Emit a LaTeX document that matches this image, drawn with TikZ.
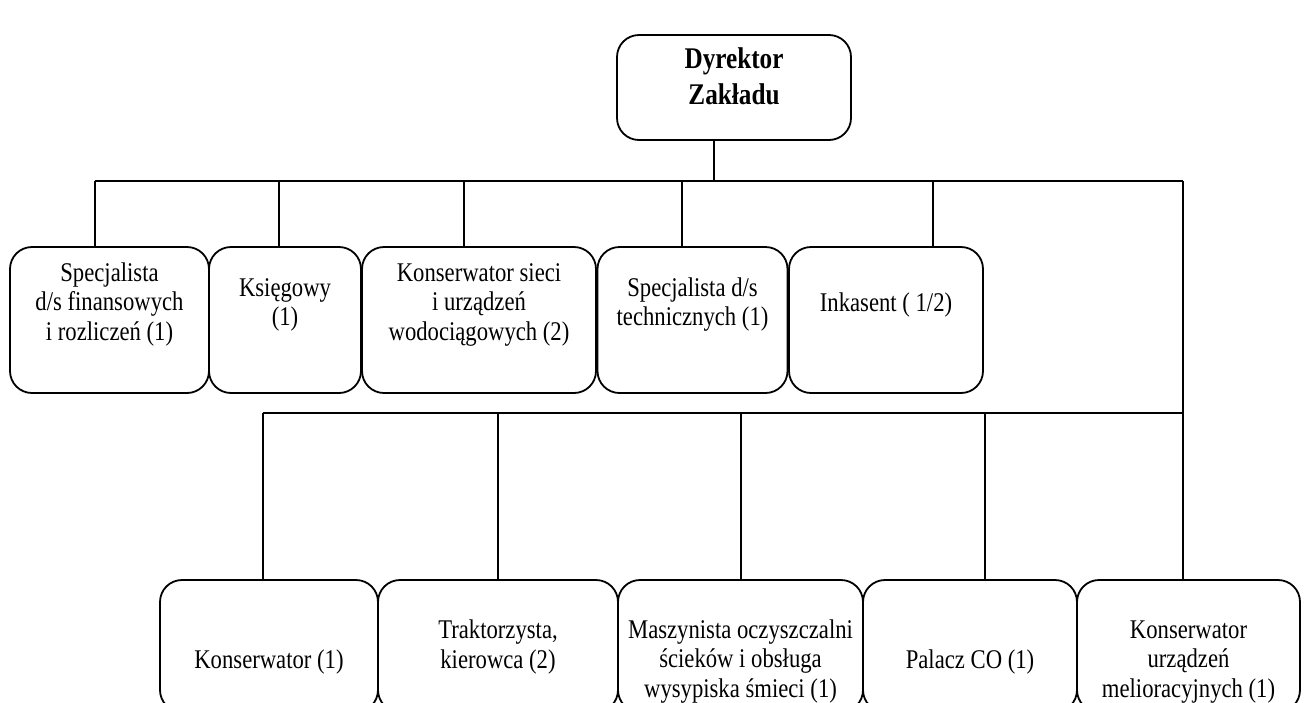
\documentclass[tikz,border=0pt]{standalone}
\usepackage{fontspec}
\setmainfont{Liberation Serif}[FakeStretch=0.84]
\begin{document}
\begin{tikzpicture}[x=1pt,y=1pt,
  box/.style={draw, line width=1.8pt, rounded corners=22pt, inner sep=0pt},
  txt/.style={font=\fontsize{27}{29.5}\selectfont, align=center, inner sep=0pt, anchor=base},
  head/.style={font=\fontsize{30}{36}\selectfont\bfseries, align=center, inner sep=0pt, anchor=base},
  conn/.style={line width=1.3pt}]
\useasboundingbox (0,0) rectangle (1308,-702);
\clip (0,0) rectangle (1308,-702);
\fill[white] (0,0) rectangle (1308,-702);

% director
\node[box, minimum width=234, minimum height=105] (dir) at (734,-87.5) {};
\node[head] (dirt) at (734,-104) {Dyrektor\\Zakładu};

% top row
\node[box, minimum width=199, minimum height=146] (a1) at (109.5,-320) {};
\node[box, minimum width=152, minimum height=146] (a2) at (285,-320) {};
\node[box, minimum width=234, minimum height=146] (a3) at (479,-320) {};
\node[box, minimum width=190, minimum height=146] (a4) at (692.5,-320) {};
\node[box, minimum width=194, minimum height=146] (a5) at (886,-320) {};

\node[txt] (a1t) at (109.5,-340) {Specjalista\\d/s finansowych\\i rozliczeń (1)};
\node[txt] (a2t) at (285,-325.5) {Księgowy\\(1)};
\node[txt] (a3t) at (479,-340) {Konserwator sieci\\i urządzeń\\wodociągowych (2)};
\node[txt] (a4t) at (692.5,-325.5) {Specjalista d/s\\technicznych (1)};
\node[txt] (a5t) at (886,-311) {Inkasent ( 1/2)};

% bottom row
\node[box, minimum width=218, minimum height=132] (b1) at (269,-646) {};
\node[box, minimum width=240, minimum height=132] (b2) at (498,-646) {};
\node[box, minimum width=245, minimum height=132] (b3) at (740.5,-646) {};
\node[box, minimum width=214, minimum height=132] (b4) at (970,-646) {};
\node[box, minimum width=223, minimum height=132] (b5) at (1188.5,-646) {};

\node[txt] (b1t) at (269,-668) {Konserwator (1)};
\node[txt] (b2t) at (498,-668) {Traktorzysta,\\kierowca (2)};
\node[txt] (b3t) at (740.5,-697) {Maszynista oczyszczalni\\ścieków i obsługa\\wysypiska śmieci (1)};
\node[txt] (b4t) at (970,-668) {Palacz CO (1)};
\node[txt] (b5t) at (1188.5,-697) {Konserwator\\urządzeń\\melioracyjnych (1)};

% connectors
\coordinate (jd) at (714,-181);
\coordinate (t1) at (95,-181);
\coordinate (t2) at (279,-181);
\coordinate (t3) at (464,-181);
\coordinate (t4) at (682,-181);
\coordinate (t5) at (933,-181);
\coordinate (t6) at (1183,-181);
\coordinate (l6) at (1183,-413);
\coordinate (l1) at (263,-413);
\coordinate (l2) at (498,-413);
\coordinate (l3) at (741,-413);
\coordinate (l4) at (985,-413);

\draw[conn] (dir.south -| jd) -- (jd);
\draw[conn, line width=2pt] (t1) -- (t6);
\draw[conn] (t1) -- (t1 |- a1.north);
\draw[conn] (t2) -- (t2 |- a2.north);
\draw[conn] (t3) -- (t3 |- a3.north);
\draw[conn] (t4) -- (t4 |- a4.north);
\draw[conn] (t5) -- (t5 |- a5.north);
\draw[conn] (t6) -- (l6) -- (l6 |- b5.north);
\draw[conn] (l1) -- (l6);
\draw[conn] (l1) -- (l1 |- b1.north);
\draw[conn] (l2) -- (l2 |- b2.north);
\draw[conn] (l3) -- (l3 |- b3.north);
\draw[conn] (l4) -- (l4 |- b4.north);
\end{tikzpicture}
\end{document}
